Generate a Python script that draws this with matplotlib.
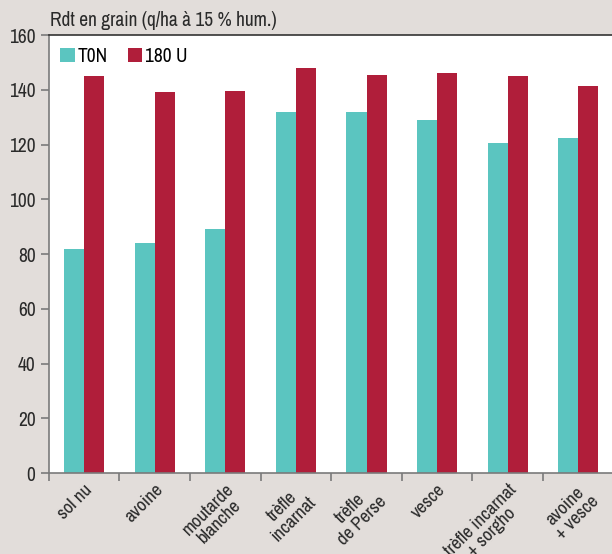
import numpy as np
import matplotlib.pyplot as plt
from matplotlib import font_manager

# police étroite si disponible
familles = sorted({f.name for f in font_manager.fontManager.ttflist})
etroites = [f for f in familles if 'Narrow' in f or 'Condensed' in f]
police = etroites[0] if etroites else 'Liberation Sans'
plt.rcParams['font.family'] = [police, 'DejaVu Sans']

categories = ['sol nu', 'avoine', 'moutarde\nblanche', 'trèfle\nincarnat', 'trèfle\nde Perse',
              'vesce', 'trèfle incarnat\n+ sorgho', 'avoine\n+ vesce']
ton = [82, 84, 89, 132, 132, 129, 120.5, 122.5]
u180 = [145, 139, 139.5, 148, 145.5, 146, 145, 141.5]
series = ['T0N', '180 U']

fond = '#e2ddda'
teal = '#5bc5c0'
rouge = '#b01e3a'
gris = '#7a7a7a'
texte = '#2a2a2a'

fig = plt.figure(figsize=(6.12, 5.54), dpi=100, facecolor=fond)
ax = fig.add_axes([0.0797, 0.1462, 0.923, 0.7906])
ax.set_facecolor('white')

x = np.arange(len(categories)) + 0.5
w = 0.285
ax.bar(x - w / 2, ton, w, color=teal, label=series[0])
ax.bar(x + w / 2, u180, w, color=rouge, label=series[1])

ax.set_xlim(0, len(categories))
ax.set_ylim(0, 160)
ax.set_yticks(range(0, 161, 20))
ax.set_xticks(range(0, len(categories) + 1))
ax.set_xticklabels([])
ax.set_xticks(x, minor=True)
ax.set_xticklabels(categories, minor=True, rotation=45, ha='right', va='top',
                   rotation_mode='anchor', multialignment='center', linespacing=1.05)
ax.tick_params(axis='x', which='minor', length=0, pad=6, labelsize=13.5, labelcolor=texte)
ax.tick_params(axis='x', which='major', length=6, color=gris, width=1.2)
ax.tick_params(axis='y', length=6, color=gris, width=1.2, labelsize=14, labelcolor=texte)

for s in ['left', 'bottom']:
    ax.spines[s].set_color(gris)
    ax.spines[s].set_linewidth(1.2)
ax.spines['top'].set_color('#333333')
ax.spines['top'].set_linewidth(1.2)
ax.spines['right'].set_visible(False)

ax.legend(loc='upper left', ncol=2, frameon=False, fontsize=14, handlelength=0.75,
          handleheight=0.75, handletextpad=0.15, columnspacing=1.0,
          borderaxespad=0.2, bbox_to_anchor=(0.0, 1.0))

fig.text(0.082, 0.946, 'Rdt en grain (q/ha à 15 % hum.)', fontsize=14, color=texte,
         ha='left', va='bottom')

fig.savefig('out.png', dpi=100, facecolor=fond)
